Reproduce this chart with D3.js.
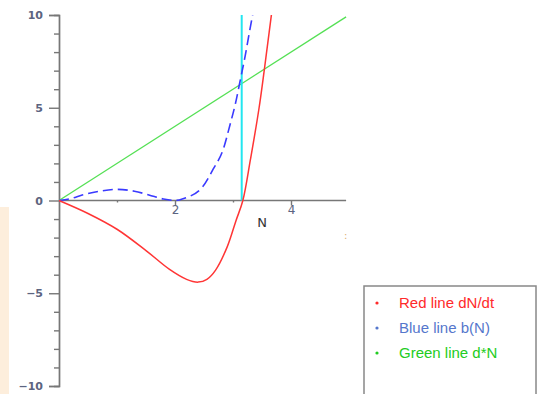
<!DOCTYPE html>
<html>
<head>
<meta charset="utf-8">
<script src="https://cdn.jsdelivr.net/npm/d3@7"></script>
<style>
  body { margin: 0; background: #fff; }
  svg { display: block; }
</style>
</head>
<body>
<div id="viz"></div>
<script>
// values
var redN   = [0, 0.5, 1.0, 1.5, 1.9, 2.2, 2.4, 2.55, 2.7, 2.9, 3.05, 3.17, 3.3, 3.45, 3.6, 3.67];
var redVal = [0, -0.7, -1.55, -2.7, -3.7, -4.25, -4.4, -4.25, -3.75, -2.5, -1.1, 0, 2.2, 5.0, 8.5, 10.2];

var blueN   = [0, 0.2, 0.4, 0.7, 1.0, 1.3, 1.55, 1.8, 2.0, 2.14, 2.48, 2.66, 2.83, 2.95, 3.04, 3.12, 3.21, 3.29, 3.35];
var blueVal = [0, 0.1, 0.3, 0.5, 0.6, 0.5, 0.3, 0.08, 0, 0.1, 0.75, 1.7, 2.75, 4.1, 5.2, 6.4, 7.8, 9.2, 10.2];

var greenN   = [0, 4.95];
var greenVal = [0, 9.9];

var cyanN = 3.15;

var xMajor = [2, 4], xMinor = [1, 3];
var yMajor = [-10, -5, 0, 5, 10];
var yMinor = [-9, -8, -7, -6, -4, -3, -2, -1, 1, 2, 3, 4, 6, 7, 8, 9];

var legendItems = ["Red line dN/dt", "Blue line b(N)", "Green line d*N"];
var legendColors = ["#ff2a2a", "#5577cc", "#22cc22"];

var width = 540, height = 394;

var svg = d3.select("#viz").append("svg")
    .attr("width", width)
    .attr("height", height);

// pale strip on the left edge
svg.append("rect")
    .attr("x", 0).attr("y", 207)
    .attr("width", 9).attr("height", height - 207)
    .attr("fill", "#fdeedc");

var x = d3.scaleLinear().domain([0, 4]).range([59, 291]);
var y = d3.scaleLinear().domain([-10, 10]).range([386, 15]);

svg.append("clipPath").attr("id", "plotclip")
  .append("rect")
    .attr("x", 50).attr("y", y(10))
    .attr("width", 320).attr("height", y(-10) - y(10));

var tickColor = "#5c6480";

// y axis
svg.append("g")
    .attr("transform", "translate(" + x(0) + ",0)")
    .call(d3.axisLeft(y).tickValues(yMinor).tickSize(5).tickFormat(""));
var yAxis = svg.append("g")
    .attr("transform", "translate(" + x(0) + ",0)")
    .call(d3.axisLeft(y).tickValues(yMajor).tickSize(10).tickPadding(6)
        .tickFormat(function(d) { return d < 0 ? "\u2212" + Math.abs(d) : d; }));

// x axis
var xAxisMinor = svg.append("g")
    .attr("transform", "translate(0," + y(0) + ")")
    .call(d3.axisBottom(x).tickValues(xMinor).tickSize(2).tickSizeOuter(0).tickFormat(""));
xAxisMinor.select(".domain").attr("d", "M" + x(0) + ",0H" + x(4.95));
var xAxis = svg.append("g")
    .attr("transform", "translate(0," + y(0) + ")")
    .call(d3.axisBottom(x).tickValues(xMajor).tickSize(5).tickPadding(0).tickSizeOuter(0)
        .tickFormat(d3.format("d")));
xAxis.select(".domain").remove();

svg.selectAll(".domain, .tick line")
    .attr("stroke", "#777")
    .attr("stroke-width", 1.4);
yAxis.selectAll("text")
    .attr("fill", tickColor)
    .style("font-family", "DejaVu Sans")
    .style("font-weight", "bold")
    .style("font-size", "11px");
xAxis.selectAll("text")
    .attr("fill", tickColor)
    .style("font-family", "DejaVu Sans")
    .style("font-size", "12px");

svg.append("text")
    .attr("x", 262).attr("y", 227)
    .attr("text-anchor", "middle")
    .attr("fill", "#333")
    .style("font-family", "DejaVu Sans")
    .style("font-size", "13px")
    .text("N");

svg.append("text")
    .attr("x", 344).attr("y", 239)
    .attr("fill", "#e0b070")
    .style("font-family", "DejaVu Sans")
    .style("font-size", "10px")
    .text(":");

var plot = svg.append("g").attr("clip-path", "url(#plotclip)");

var line = d3.line()
    .x(function(d) { return x(d[0]); })
    .y(function(d) { return y(d[1]); });

// green d*N
plot.append("path")
    .datum(d3.zip(greenN, greenVal))
    .attr("d", line)
    .attr("fill", "none")
    .attr("stroke", "#55e055")
    .attr("stroke-width", 1.3);

// cyan vertical
plot.append("line")
    .attr("x1", x(cyanN)).attr("x2", x(cyanN))
    .attr("y1", y(0)).attr("y2", y(10))
    .attr("stroke", "#22e6f0")
    .attr("stroke-width", 2);

// blue b(N)
plot.append("path")
    .datum(d3.zip(blueN, blueVal))
    .attr("d", line.curve(d3.curveMonotoneX))
    .attr("fill", "none")
    .attr("stroke", "#3a3aff")
    .attr("stroke-width", 1.6)
    .attr("stroke-dasharray", "10,5");

// red dN/dt
plot.append("path")
    .datum(d3.zip(redN, redVal))
    .attr("d", line.curve(d3.curveCatmullRom.alpha(0.5)))
    .attr("fill", "none")
    .attr("stroke", "#ff3535")
    .attr("stroke-width", 1.5);

// legend
var legend = svg.append("g");
legend.append("rect")
    .attr("x", 364).attr("y", 286)
    .attr("width", 172).attr("height", 110)
    .attr("fill", "#fff")
    .attr("stroke", "#888")
    .attr("stroke-width", 1.5);

legendItems.forEach(function(t, i) {
    var ly = 303 + i * 25;
    legend.append("circle")
        .attr("cx", 377).attr("cy", ly)
        .attr("r", 1.6)
        .attr("fill", legendColors[i]);
    legend.append("text")
        .attr("x", 399).attr("y", ly + 5)
        .attr("fill", legendColors[i])
        .style("font-family", "Liberation Sans")
        .style("font-size", "15px")
        .text(t);
});
</script>
</body>
</html>
